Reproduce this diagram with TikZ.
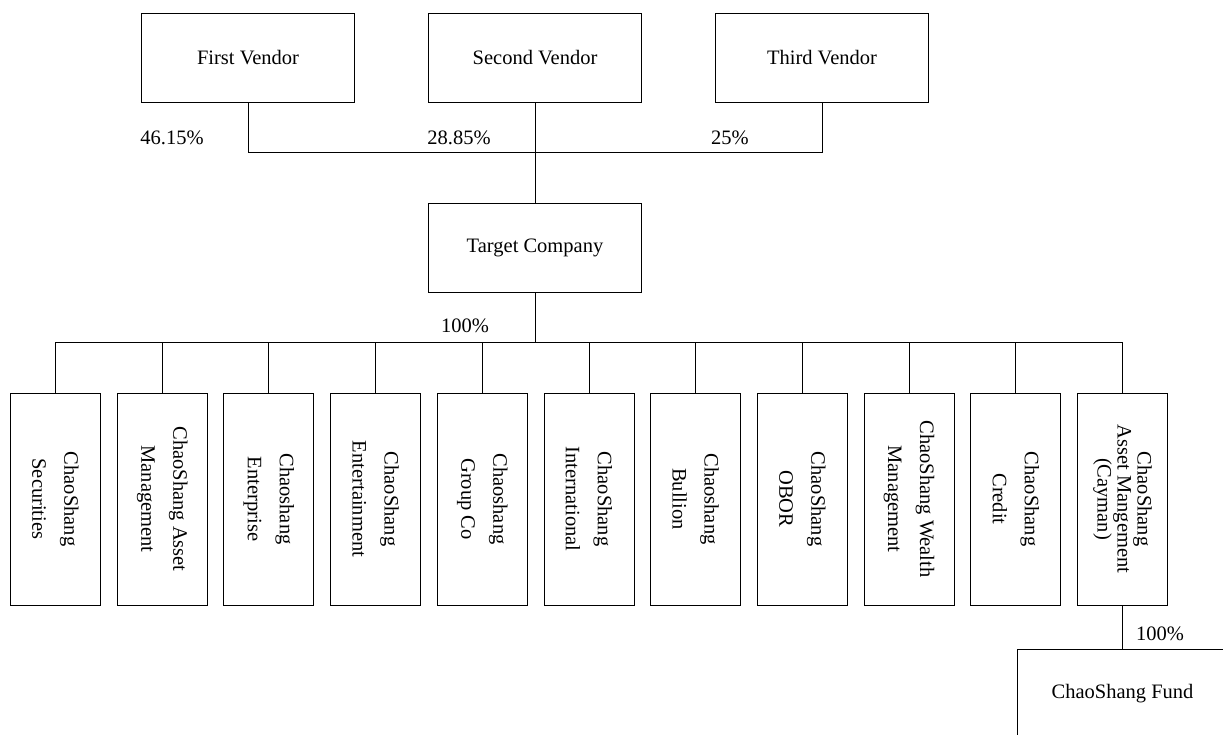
\documentclass[tikz,border=0pt]{standalone}
\usepackage{fontspec}
\setmainfont{Liberation Serif}
\usetikzlibrary{positioning}

\begin{document}
\begin{tikzpicture}[
    x=1pt, y=1pt,
    every node/.style={font=\fontsize{20.5}{24}\selectfont},
    firm/.style={rectangle, draw, line width=0.9pt, minimum width=213, minimum height=89, inner sep=0pt},
    sub/.style={rectangle, draw, line width=0.9pt, rotate=-90, minimum width=212, minimum height=90,
                inner sep=0pt, align=center, font=\fontsize{20.5}{32}\selectfont},
    link/.style={line width=0.9pt},
    pct/.style={inner sep=0pt},
  ]
    \clip (0,0) rectangle (1223,735);
    % shareholders
    \node[firm] (v1) at (248, 677.5) {First Vendor};
    \node[firm] (v2) at (535, 677.5) {Second Vendor};
    \node[firm] (v3) at (822, 677.5) {Third Vendor};
    \coordinate (vhub) at (535, 583);
    \node[firm] (tgt) at (535, 487.5) {Target Company};
    \draw[link] (v1.south) |- (vhub);
    \draw[link] (v3.south) |- (vhub);
    \draw[link] (v2.south) -- (tgt.north);
    \node[pct] (p1) at (172, 597) {46.15\%};
    \node[pct] (p2) at (459, 597) {28.85\%};
    \node[pct] (p3) at (730, 597) {25\%};
    % subsidiaries
    \coordinate (hub) at (535, 393);
    \draw[link] (tgt.south) -- (hub);
    \node[pct] (p4) at (465, 409) {100\%};
    \foreach \k/\txt in {1/{ChaoShang\\Securities}, 2/{ChaoShang Asset\\Management},
        3/{Chaoshang\\Enterprise}, 4/{ChaoShang\\Entertainment}, 5/{Chaoshang\\Group Co},
        6/{ChaoShang\\International}, 7/{Chaoshang\\Bullion}, 8/{ChaoShang\\OBOR},
        9/{ChaoShang Wealth\\Management}, 10/{ChaoShang\\Credit}}{
      \node[sub] (c\k) at ({55.5+106.7*(\k-1)}, 236) {\txt};
      \draw[link] (c\k.west) |- (hub);}
    \node[sub, font=\fontsize{20.5}{20}\selectfont] (c11) at (1122.5, 236)
      {ChaoShang\\Asset Mangement\\(Cayman)};
    \draw[link] (c11.west) |- (hub);
    % fund
    \node[firm, minimum width=210, minimum height=90] (fund) at (1122.5, 41) {ChaoShang Fund};
    \draw[link] (c11.east) -- (fund.north);
    \node[pct] (p5) at (1160, 101) {100\%};
  \end{tikzpicture}
\end{document}
